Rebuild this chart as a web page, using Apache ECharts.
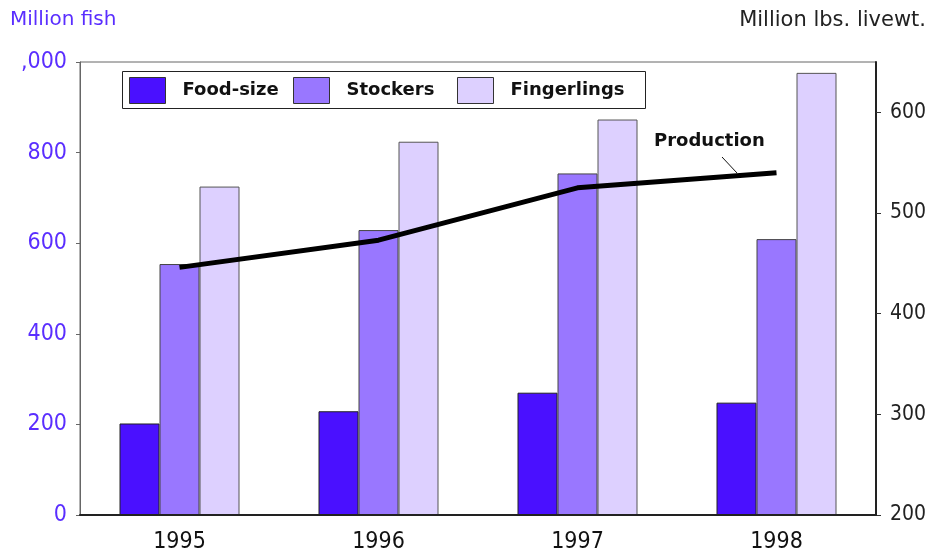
<!DOCTYPE html>
<html>
<head>
<meta charset="utf-8">
<script src="https://cdn.jsdelivr.net/npm/echarts@6/dist/echarts.min.js"></script>
<style>
	html, body { margin: 0; padding: 0; background: #fff; }
	#chart { width: 932px; height: 554px; }
</style>
</head>
<body>
<div id="chart"></div>
<script>
var years = ['1995', '1996', '1997', '1998'];
var foodSize = [202, 229, 270, 248];
var stockers = [554, 629, 754, 609];
var fingerlings = [725, 824, 873, 976];
var production = [446, 473, 525, 540];

var purple = '#5a2eff';
var font = '"DejaVu Sans", sans-serif';
var narrow = '"DejaVu Sans Condensed", "DejaVu Sans", sans-serif';

// one legend per item so each swatch sits where the original has it
function legendAt(name, left) {
	return {
		data : [ name ],
		icon : 'rect',
		left : left,
		top : 77,
		padding : 0,
		itemWidth : 36,
		itemHeight : 26,
		itemStyle : { borderColor : '#333', borderWidth : 1 },
		textStyle : {
			fontSize : 18,
			fontWeight : 'bold',
			color : '#111',
			padding : [ 0, 0, 0, 12 ]
		}
	};
}

var chart = echarts.init(document.getElementById('chart'));
var option = {
	backgroundColor : '#fff',
	animation : false,
	textStyle : { fontFamily : font },
	grid : {
		left : 80,
		right : 56,
		top : 62,
		bottom : 37,
		show : true,
		borderColor : '#666',
		borderWidth : 1
	},
	legend : [ legendAt('Food-size', 129), legendAt('Stockers', 293), legendAt('Fingerlings', 457) ],
	graphic : [ {
		type : 'rect',
		z : 3,
		shape : { x : 122.5, y : 71.5, width : 523, height : 37 },
		style : { fill : '#fff', stroke : '#222', lineWidth : 1 }
	}, {
		type : 'text',
		left : 10,
		top : 10,
		style : { text : 'Million fish', fill : purple, fontSize : 20, fontFamily : font }
	}, {
		type : 'text',
		right : 6,
		top : 10,
		style : { text : 'Million lbs. livewt.', fill : '#222', fontSize : 21, fontFamily : font }
	}, {
		type : 'text',
		left : 654,
		top : 132,
		style : { text : 'Production', fill : '#111', fontSize : 18, fontWeight : 'bold', fontFamily : font }
	}, {
		type : 'line',
		shape : { x1 : 722, y1 : 157, x2 : 737, y2 : 173 },
		style : { stroke : '#111', lineWidth : 1 }
	} ],
	xAxis : [ {
		type : 'category',
		data : years,
		z : 5,
		axisLine : { lineStyle : { color : '#222', width : 2 } },
		axisTick : { inside : true, alignWithLabel : true, length : 7, lineStyle : { color : '#333' } },
		axisLabel : { fontSize : 23, fontFamily : narrow, color : '#111', margin : 16 }
	} ],
	yAxis : [ {
		type : 'value',
		min : 0,
		max : 1000,
		interval : 200,
		splitLine : { show : false },
		axisLine : { show : true, lineStyle : { color : '#666' } },
		axisTick : { show : true, length : 4, lineStyle : { color : '#666' } },
		axisLabel : {
			fontSize : 23,
			fontFamily : narrow,
			color : purple,
			margin : 13,
			formatter : function(v) {
				return v === 1000 ? ',000' : v;
			}
		}
	}, {
		type : 'value',
		min : 200,
		max : 650,
		interval : 100,
		position : 'right',
		splitLine : { show : false },
		axisLine : { show : true, lineStyle : { color : '#222', width : 2 } },
		axisTick : { show : true, length : 5, lineStyle : { color : '#333' } },
		axisLabel : { fontSize : 21, fontFamily : narrow, color : '#222', margin : 14, showMaxLabel : false }
	} ],
	series : [ {
		name : 'Food-size',
		type : 'bar',
		barWidth : 40,
		barGap : '0%',
		data : foodSize,
		itemStyle : { color : '#4a10ff', borderColor : '#222', borderWidth : 1 }
	}, {
		name : 'Stockers',
		type : 'bar',
		barWidth : 40,
		barGap : '0%',
		data : stockers,
		itemStyle : { color : '#9977ff', borderColor : '#444', borderWidth : 1 }
	}, {
		name : 'Fingerlings',
		type : 'bar',
		barWidth : 40,
		barGap : '0%',
		data : fingerlings,
		itemStyle : { color : '#ddd0ff', borderColor : '#555', borderWidth : 1 }
	}, {
		name : 'Production',
		type : 'line',
		yAxisIndex : 1,
		data : production,
		symbol : 'none',
		z : 4,
		lineStyle : { color : '#000', width : 5 }
	} ]
};
chart.setOption(option, true);
</script>
</body>
</html>
